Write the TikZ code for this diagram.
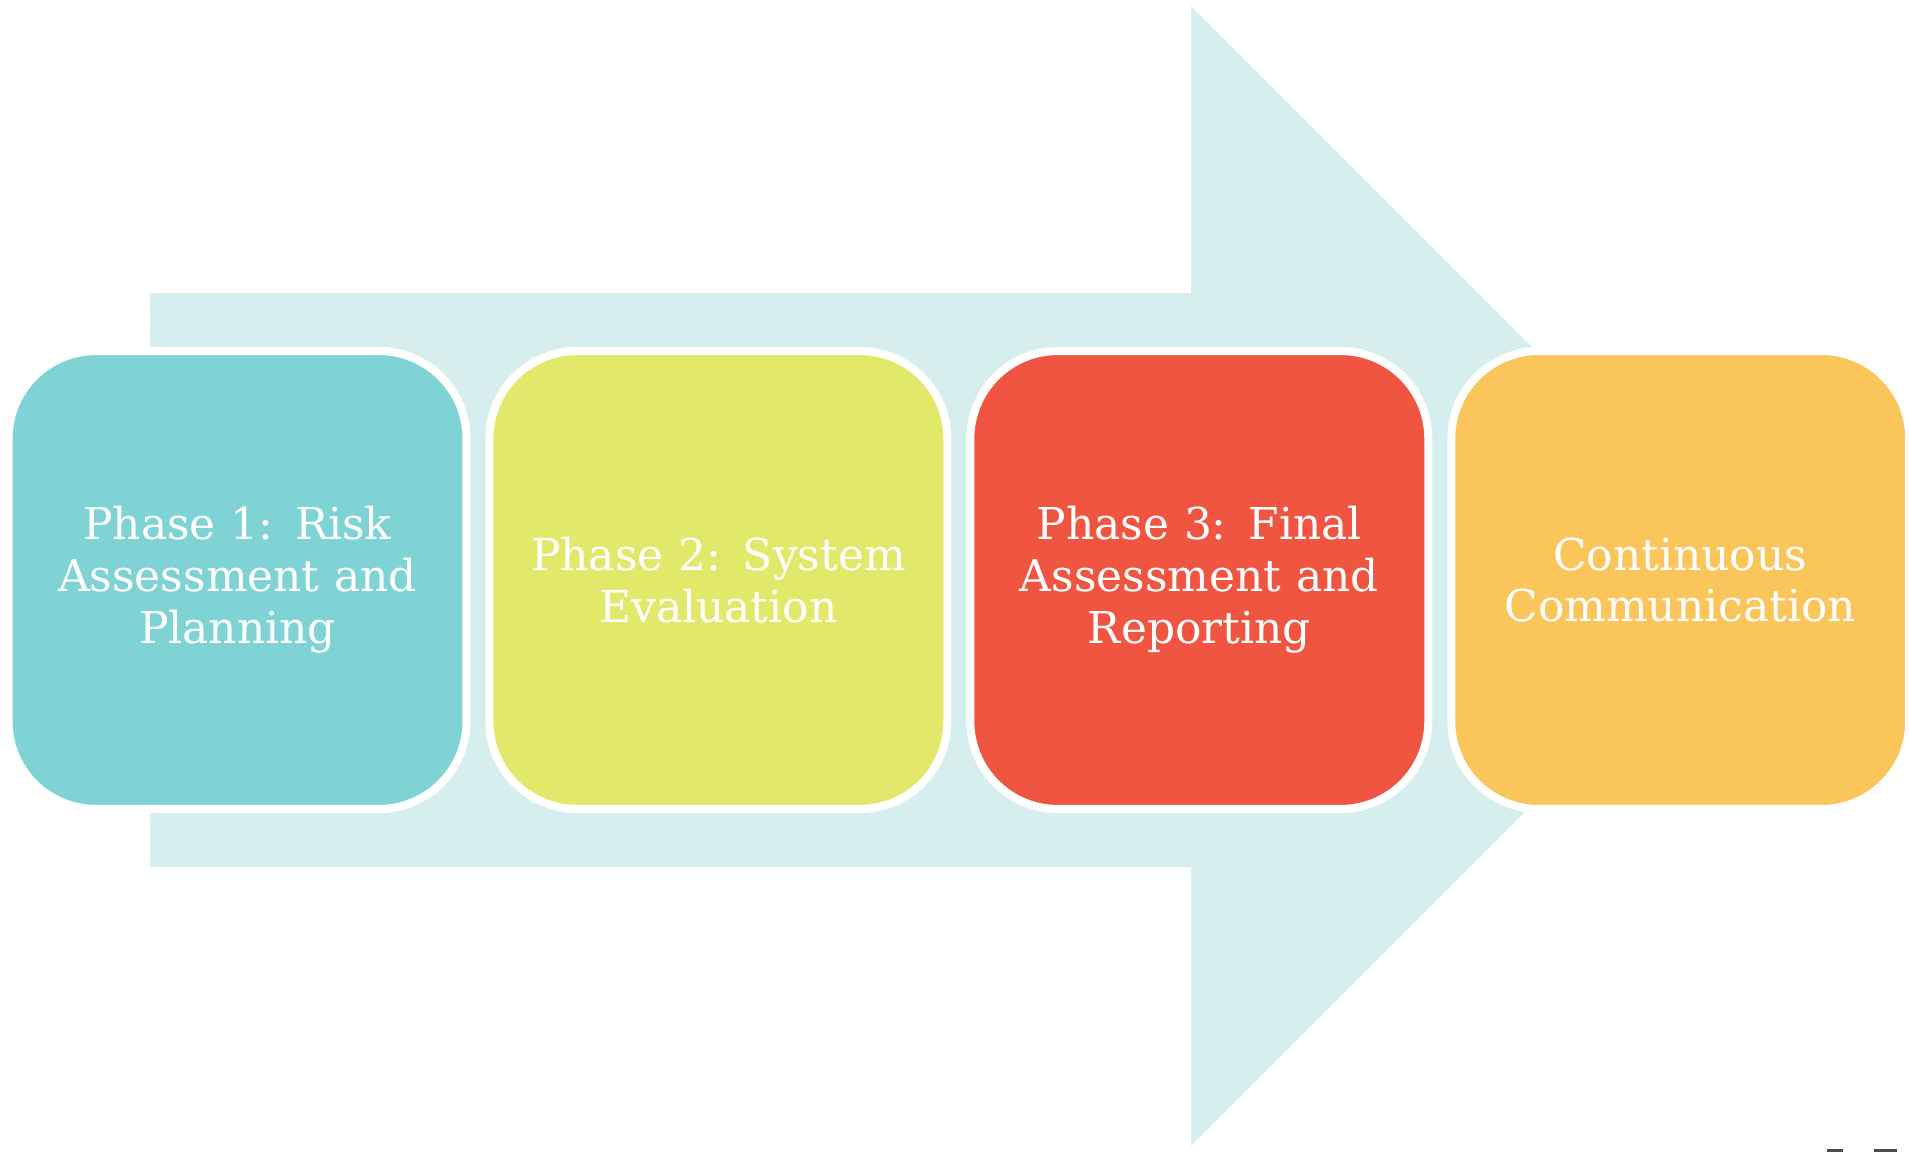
\documentclass[tikz,border=0pt]{standalone}
\usepackage{fontspec}
\setmainfont{DejaVu Serif}
\usetikzlibrary{positioning}

\definecolor{arrowfill}{HTML}{D6EEEE}
\definecolor{phaseA}{HTML}{7FD3D4}
\definecolor{phaseB}{HTML}{E2E86A}
\definecolor{phaseC}{HTML}{EF5541}
\definecolor{phaseD}{HTML}{FAC55B}

\begin{document}
\begin{tikzpicture}[x=0.02cm,y=-0.02cm]
\tikzset{PhaseStyle/.style = {draw=white,line width=0.16cm,
                              rounded corners=1.75cm,
                              minimum width=9.16cm,minimum height=9.16cm,
                              outer sep=0pt,inner sep=0pt,
                              text width=8.6cm,align=center,
                              text=white,font=\fontsize{25}{29.5}\selectfont}}
\useasboundingbox (0,0) rectangle (1909,1152);

% big arrow behind the boxes
\fill[arrowfill] (150,293) -- (1191,293) -- (1191,6) -- (1761,576)
                 -- (1191,1146) -- (1191,867) -- (150,867) -- cycle;

\node[PhaseStyle,fill=phaseA] (p1) at (237.5,580) {Phase 1: Risk\\Assessment and\\Planning};
\node[PhaseStyle,fill=phaseB,right=0.46cm of p1] (p2) {Phase 2: System\\Evaluation};
\node[PhaseStyle,fill=phaseC,right=0.46cm of p2] (p3) {Phase 3: Final\\Assessment and\\Reporting};
\node[PhaseStyle,fill=phaseD,right=0.46cm of p3] (p4) {Continuous\\Communication};

% marks at the lower edge
\fill[black!70] (1827,1149) rectangle (1843,1152);
\fill[black!70] (1874,1149) rectangle (1897,1152);
\end{tikzpicture}
\end{document}
